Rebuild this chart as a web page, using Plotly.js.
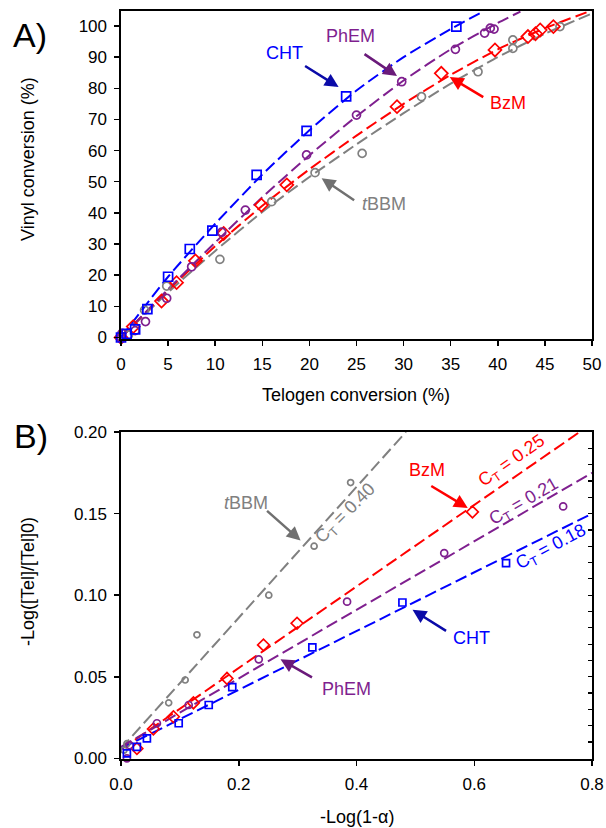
<!DOCTYPE html>
<html><head><meta charset="utf-8">
<script src="https://cdn.plot.ly/plotly-3.0.1.min.js"></script>
<style>html,body{margin:0;padding:0;background:#fff}</style>
</head><body><div id="chart" style="width:606px;height:828px"></div>
<script>
// ---------- Panel A data (Telogen conversion %, Vinyl conversion %) ----------
const A_CHT_x  = [0, 0.6, 1.5, 2.8, 5.0, 7.3, 9.7, 14.4, 19.7, 23.9, 35.6];
const A_CHT_y  = [0, 1.2, 2.6, 9.1, 19.5, 28.4, 34.3, 52.2, 66.3, 77.4, 99.8];
const A_PhEM_x = [0, 0.1, 1.5, 2.6, 4.85, 7.5, 10.7, 13.2, 19.7, 25.0, 29.8, 35.5, 38.6, 39.2, 39.6];
const A_PhEM_y = [0, 1.3, 2.2, 5.1, 12.6, 22.7, 33.8, 40.9, 58.6, 71.4, 82.1, 92.5, 97.7, 99.3, 99.0];
const A_BzM_x  = [0, 1.3, 4.3, 5.9, 7.9, 10.9, 14.9, 17.6, 29.3, 34.0, 39.7, 43.2, 44.0, 44.5, 45.9];
const A_BzM_y  = [0, 3.5, 11.7, 17.6, 24.6, 33.4, 42.5, 49.0, 74.1, 84.8, 92.3, 96.6, 97.5, 98.7, 99.8];
const A_tBBM_x = [0, 0.8, 2.5, 4.85, 10.5, 16.0, 20.6, 25.6, 31.9, 37.9, 41.6, 41.6, 46.6];
const A_tBBM_y = [0.3, 0.8, 8.8, 16.5, 25.1, 43.6, 52.9, 59.1, 77.3, 85.3, 92.8, 95.5, 99.8];
// fitted curves
const A_CHT_fit_x  = [0, 5, 10, 15, 20, 25, 30, 35, 38.4];
const A_CHT_fit_y  = [0, 19.5, 36.5, 52.3, 66.5, 79.3, 90, 99, 104.6];
const A_PhEM_fit_x = [0, 5, 10, 15, 20, 25, 30, 35, 40, 42.4];
const A_PhEM_fit_y = [0, 15.5, 30.5, 45, 58.5, 71, 82.5, 92.5, 101, 104.6];
const A_BzM_fit_x  = [0, 5, 10, 15, 20, 25, 30, 35, 40, 45, 50];
const A_BzM_fit_y  = [0, 15.2, 29.3, 42.3, 54, 64.8, 75, 84.3, 92.5, 99.3, 105];
const A_tBBM_fit_x = [0, 5, 10, 15, 20, 25, 30, 35, 40, 45, 50];
const A_tBBM_fit_y = [0, 14.5, 27.8, 40.3, 51.5, 62, 72, 81.5, 90, 97.5, 104];

// ---------- Panel B data (-Log(1-alpha), -Log([Tel]/[Tel]0)) ----------
const B_CHT_x  = [0.01, 0.027, 0.044, 0.098, 0.149, 0.189, 0.325, 0.478, 0.654];
const B_CHT_y  = [0.003, 0.007, 0.0123, 0.0215, 0.0327, 0.0436, 0.068, 0.0955, 0.1196];
const B_PhEM_x = [0.01, 0.015, 0.061, 0.115, 0.234, 0.384, 0.549, 0.751];
const B_PhEM_y = [0.0, 0.008, 0.0215, 0.0327, 0.0607, 0.096, 0.1258, 0.1544];
const B_BzM_x  = [0.027, 0.055, 0.089, 0.123, 0.180, 0.242, 0.299, 0.597];
const B_BzM_y  = [0.006, 0.018, 0.0255, 0.034, 0.049, 0.0695, 0.0828, 0.151];
const B_tBBM_x = [0.005, 0.01, 0.081, 0.109, 0.129, 0.251, 0.328, 0.39];
const B_tBBM_y = [0.005, 0.009, 0.034, 0.048, 0.0757, 0.100, 0.130, 0.169];
// linear fits (endpoints)
const B_CHT_fit_x  = [0, 0.8];   const B_CHT_fit_y  = [0.006, 0.150];
const B_PhEM_fit_x = [0, 0.8];   const B_PhEM_fit_y = [0.007, 0.175];
const B_BzM_fit_x  = [0, 0.779]; const B_BzM_fit_y  = [0.0054, 0.2];
const B_tBBM_fit_x = [0, 0.484]; const B_tBBM_fit_y = [0.006, 0.2];
const CT_values = ['0.18', '0.21', '0.25', '0.40'];

const A_xticks = [0,5,10,15,20,25,30,35,40,45,50];
const A_yticks = [0,10,20,30,40,50,60,70,80,90,100];
const B_xticks = [0,0.2,0.4,0.6,0.8];
const B_yticks = [0,0.05,0.10,0.15,0.20];

const C = {CHT:'#0000ff', PhEM:'#7f1f8f', BzM:'#ff0000', tBBM:'#808080'};
const DASH = '12px,5px';

function fit(x,y,col,xa,ya){return {x:x,y:y,xaxis:xa,yaxis:ya,mode:'lines',line:{color:col,width:2,dash:DASH,shape:'spline',smoothing:0.6},hoverinfo:'skip'};}
function pts(x,y,col,sym,size,xa,ya){return {x:x,y:y,xaxis:xa,yaxis:ya,mode:'markers',cliponaxis:false,marker:{symbol:sym,size:size,color:col,line:{color:col,width:1.7}}};}

const data = [
  fit(A_tBBM_fit_x,A_tBBM_fit_y,C.tBBM,'x','y'),
  fit(A_BzM_fit_x,A_BzM_fit_y,C.BzM,'x','y'),
  fit(A_PhEM_fit_x,A_PhEM_fit_y,C.PhEM,'x','y'),
  fit(A_CHT_fit_x,A_CHT_fit_y,C.CHT,'x','y'),
  pts(A_tBBM_x,A_tBBM_y,C.tBBM,'circle-open',8,'x','y'),
  pts(A_BzM_x,A_BzM_y,C.BzM,'diamond-open',10,'x','y'),
  pts(A_PhEM_x,A_PhEM_y,C.PhEM,'circle-open',8,'x','y'),
  pts(A_CHT_x,A_CHT_y,C.CHT,'square-open',9,'x','y'),
  fit(B_tBBM_fit_x,B_tBBM_fit_y,C.tBBM,'x2','y2'),
  fit(B_BzM_fit_x,B_BzM_fit_y,C.BzM,'x2','y2'),
  fit(B_PhEM_fit_x,B_PhEM_fit_y,C.PhEM,'x2','y2'),
  fit(B_CHT_fit_x,B_CHT_fit_y,C.CHT,'x2','y2'),
  pts(B_tBBM_x,B_tBBM_y,C.tBBM,'circle-open',6,'x2','y2'),
  pts(B_BzM_x,B_BzM_y,C.BzM,'diamond-open',9,'x2','y2'),
  pts(B_PhEM_x,B_PhEM_y,C.PhEM,'circle-open',7,'x2','y2'),
  pts(B_CHT_x,B_CHT_y,C.CHT,'square-open',7,'x2','y2')
];

const H = 828, W = 606;
const axBase = {showgrid:false, zeroline:false, showline:true, linecolor:'#000', linewidth:1.6, mirror:true,
  ticks:'outside', ticklen:5, tickwidth:1.5, tickcolor:'#000', ticklabelstandoff:4,
  tickfont:{size:17, color:'#000'}};

const TXT = 18;
function lab(x,y,xr,yr,text,col,size,angle){return {x:x,y:y,xref:xr,yref:yr,text:text,showarrow:false,font:{size:size||TXT,color:col},textangle:angle||0,xanchor:'center',yanchor:'middle'};}
function arr(x,y,xr,yr,ax,ay,col){return {x:x,y:y,xref:xr,yref:yr,ax:ax,ay:ay,text:'',showarrow:true,arrowhead:2,arrowsize:1.1,arrowwidth:2.5,arrowcolor:col,standoff:0,startstandoff:0};}

const annotations = [
  // panel letters
  {x:30/W, y:1-35/H, xref:'paper', yref:'paper', text:'A)', showarrow:false, font:{size:34,color:'#000'}, xanchor:'center', yanchor:'middle'},
  {x:31/W, y:1-436/H, xref:'paper', yref:'paper', text:'B)', showarrow:false, font:{size:34,color:'#000'}, xanchor:'center', yanchor:'middle'},
  // axis titles
  lab(28/W, 1-159/H, 'paper','paper','Vinyl conversion (%)','#000',18,-90),
  lab(356/W, 1-395/H, 'paper','paper','Telogen conversion (%)','#000',18,0),
  lab(28/W, 1-582/H, 'paper','paper','-Log([Tel]/[Tel]0)','#000',18,-90),
  lab(357/W, 1-817/H, 'paper','paper','-Log(1-α)','#000',18,0),
  // panel A labels + arrows
  lab(17.4, 91.2, 'x','y','CHT',C.CHT),
  arr(23.1, 80.4, 'x','y', -35, -22, '#0a0aa8'),
  lab(24.4, 96.9, 'x','y','PhEM',C.PhEM),
  arr(29.3, 83.9, 'x','y', -34, -23, '#6a1a7a'),
  lab(41.1, 75.4, 'x','y','BzM',C.BzM),
  arr(34.9, 83.6, 'x','y', 35, 21, '#ff0000'),
  lab(27.9, 42.9, 'x','y','<i>t</i>BBM',C.tBBM),
  arr(21.3, 51.1, 'x','y', 34, 23, '#707070'),
  // panel B labels + arrows
  lab(0.213, 0.1562, 'x2','y2','<i>t</i>BBM',C.tBBM),
  arr(0.305, 0.1335, 'x2','y2', -35, -31, '#707070'),
  lab(0.5196, 0.1766, 'x2','y2','BzM',C.BzM),
  arr(0.589, 0.1534, 'x2','y2', -38, -23, '#ff0000'),
  lab(0.5945, 0.0738, 'x2','y2','CHT',C.CHT),
  arr(0.4952, 0.091, 'x2','y2', 35, 22, '#0a0aa8'),
  lab(0.3825, 0.0425, 'x2','y2','PhEM',C.PhEM),
  arr(0.2709, 0.0607, 'x2','y2', 33, 19, '#6a1a7a'),
  // C_T labels
  lab(0.383, 0.1499, 'x2','y2','C<sub>T</sub> = '+CT_values[3],C.tBBM,18,-45),
  lab(0.664, 0.182, 'x2','y2','C<sub>T</sub> = '+CT_values[2],C.BzM,18,-35),
  lab(0.684, 0.157, 'x2','y2','C<sub>T</sub> = '+CT_values[1],C.PhEM,18,-30),
  lab(0.731, 0.1293, 'x2','y2','C<sub>T</sub> = '+CT_values[0],C.CHT,18,-28)
];

const layout = {
  width:W, height:H, margin:{l:0,r:0,t:0,b:0}, showlegend:false,
  paper_bgcolor:'#fff', plot_bgcolor:'#fff',
  font:{family:'"Liberation Sans", Arial, sans-serif', size:17, color:'#000'},
  xaxis:Object.assign({}, axBase, {domain:[121/W, 592/W], range:[0,50], anchor:'y', tickvals:A_xticks}),
  yaxis:Object.assign({}, axBase, {domain:[(H-339)/H, (H-11)/H], range:[-0.48,104.8], anchor:'x', tickvals:A_yticks}),
  xaxis2:Object.assign({}, axBase, {domain:[121/W, 592/W], range:[0,0.8], anchor:'y2', tickvals:B_xticks, tickformat:'.1f'}),
  yaxis2:Object.assign({}, axBase, {domain:[(H-759)/H, (H-432)/H], range:[-0.0004,0.2], anchor:'x2', tickvals:B_yticks, tickformat:'.2f'}),
  yaxis3:{overlaying:'y2', side:'right', anchor:'x2', range:[-0.0004,0.2], tick0:0, dtick:0.01, ticks:'inside', ticklen:4, tickwidth:1.2, tickcolor:'#000', showticklabels:false, showline:false, showgrid:false, zeroline:false},
  annotations:annotations
};
// invisible trace to activate the right-hand minor-tick axis
data.push({x:[0],y:[0],xaxis:'x2',yaxis:'y3',mode:'markers',marker:{opacity:0},hoverinfo:'skip'});

Plotly.newPlot('chart', data, layout, {staticPlot:true, displayModeBar:false});
</script></body></html>
